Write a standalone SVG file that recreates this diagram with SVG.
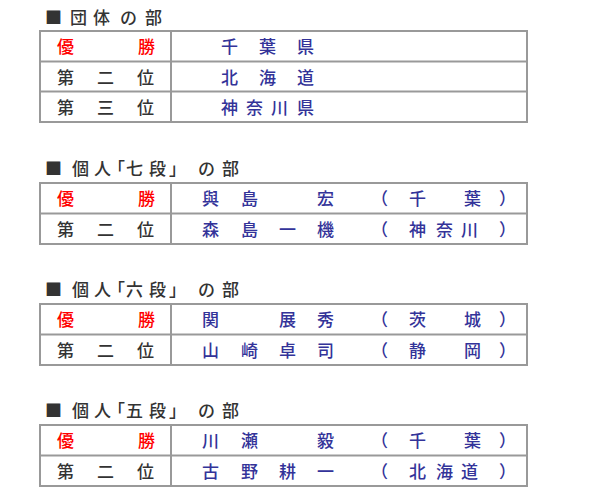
<svg xmlns="http://www.w3.org/2000/svg" width="600" height="500" viewBox="0 0 600 500">
<style>
text{font-family:"Noto Sans CJK JP","Noto Sans CJK SC",sans-serif;font-size:17px;font-weight:500}
.t{fill:#333333}
.r{fill:#ff0000}
.k{fill:#333333}
.b{fill:#333399}
.tb{fill:#ffffff;stroke:#999999;stroke-width:2}
.ln{stroke:#999999;stroke-width:2;fill:none}
</style>
<rect width="600" height="500" fill="#ffffff"/>

<g id="sec1">
<text class="t" x="45 70 93 120 145" y="24">■団体の部</text>
<rect class="tb" x="40" y="31" width="487" height="91"/>
<path class="ln" d="M40 61.5H527M40 91.5H527M171 31V122"/>
<text class="r" x="57 138" y="53">優勝</text>
<text class="b" x="221 259 297" y="53">千葉県</text>
<text class="k" x="57 97 137" y="83.5">第二位</text>
<text class="b" x="221 259 297" y="83.5">北海道</text>
<text class="k" x="57 97 137" y="114">第三位</text>
<text class="b" x="221 246 271 297" y="114">神奈川県</text>
</g>

<g id="sec2">
<text class="t" x="45 72 94 108 126 149 169 198 222" y="174.5">■個人「七段」の部</text>
<rect class="tb" x="40" y="183" width="487" height="61"/>
<path class="ln" d="M40 213.5H527M171 183V244"/>
<text class="r" x="57 138" y="205">優勝</text>
<text class="b" x="202 241 317 371 409 464 499" y="205">與島宏（千葉）</text>
<text class="k" x="57 97 137" y="235.5">第二位</text>
<text class="b" x="202 241 279 317 371 409 436 461 499" y="235.5">森島一機（神奈川）</text>
</g>

<g id="sec3">
<text class="t" x="45 72 94 108 126 149 169 198 222" y="296">■個人「六段」の部</text>
<rect class="tb" x="40" y="304" width="487" height="61"/>
<path class="ln" d="M40 334.5H527M171 304V365"/>
<text class="r" x="57 138" y="326">優勝</text>
<text class="b" x="202 279 317 371 409 464 499" y="326">関展秀（茨城）</text>
<text class="k" x="57 97 137" y="356.5">第二位</text>
<text class="b" x="202 241 279 317 371 409 464 499" y="356.5">山崎卓司（静岡）</text>
</g>

<g id="sec4">
<text class="t" x="45 72 94 108 126 149 169 198 222" y="417">■個人「五段」の部</text>
<rect class="tb" x="40" y="425" width="487" height="61"/>
<path class="ln" d="M40 455.5H527M171 425V486"/>
<text class="r" x="57 138" y="447">優勝</text>
<text class="b" x="202 241 317 371 409 464 499" y="447">川瀬毅（千葉）</text>
<text class="k" x="57 97 137" y="477.5">第二位</text>
<text class="b" x="202 241 279 317 371 409 436 461 499" y="477.5">古野耕一（北海道）</text>
</g>
</svg>
